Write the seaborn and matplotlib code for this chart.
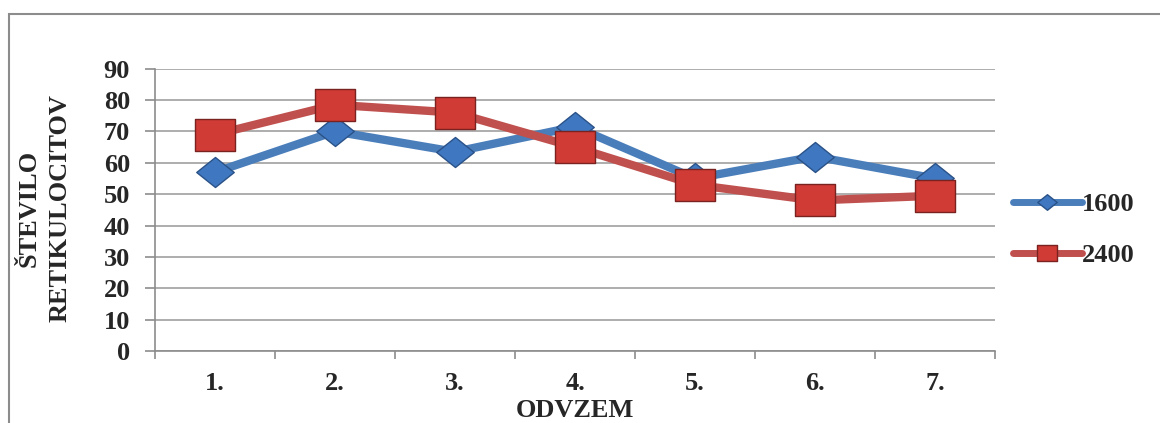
import pandas as pd
import matplotlib.pyplot as plt
import seaborn as sns
from matplotlib.path import Path
from matplotlib.lines import Line2D
from matplotlib.patches import Rectangle

# podatki
odvzem = ['1.', '2.', '3.', '4.', '5.', '6.', '7.']
serija_1600 = [57, 70, 63.5, 71.5, 55, 62, 55]
serija_2400 = [69, 78.5, 76, 65, 53, 48, 49.5]
y_ticks = [0, 10, 20, 30, 40, 50, 60, 70, 80, 90]

sns.set_theme(style='white')
plt.rcParams['font.family'] = ['Liberation Serif', 'DejaVu Serif']
plt.rcParams['font.weight'] = 'bold'

# markerji (raztegnjeni kot v Excelu)
diamant = Path([(0, -0.8), (1, 0), (0, 0.8), (-1, 0), (0, -0.8)],
               [Path.MOVETO, Path.LINETO, Path.LINETO, Path.LINETO, Path.CLOSEPOLY])
kvadrat = Path([(-1, -0.78), (1, -0.78), (1, 0.78), (-1, 0.78), (-1, -0.78)],
               [Path.MOVETO, Path.LINETO, Path.LINETO, Path.LINETO, Path.CLOSEPOLY])

modra = '#4a7ebb'
rdeca = '#c0504d'
fs = 19

fig = plt.figure(figsize=(11.6, 4.23), dpi=100)
ax = fig.add_axes([155 / 1160, 1 - 351 / 423, 840 / 1160, (351 - 68.7) / 423])

sns.lineplot(x=odvzem, y=serija_1600, ax=ax, color=modra, lw=6, sort=False,
             marker=diamant, markersize=27, markerfacecolor='#3f78c0',
             markeredgecolor='#2a5288', markeredgewidth=1)
sns.lineplot(x=odvzem, y=serija_2400, ax=ax, color=rdeca, lw=6, sort=False,
             marker=kvadrat, markersize=29, markerfacecolor='#d13b35',
             markeredgecolor='#7a2220', markeredgewidth=1)

ax.set_xlim(-0.5, len(odvzem) - 0.5)
ax.set_ylim(0, 90)
ax.set_yticks(y_ticks)
ax.yaxis.grid(True, color='#a0a0a0', lw=1.2)
ax.set_axisbelow(True)
for s in ['top', 'right']:
    ax.spines[s].set_visible(False)
for s in ['left', 'bottom']:
    ax.spines[s].set_color('#8c8c8c')
    ax.spines[s].set_linewidth(1.2)

ax.set_xticks(range(len(odvzem)))
ax.set_xticklabels(odvzem)
ax.set_xticks([i - 0.5 for i in range(len(odvzem) + 1)], minor=True)
ax.tick_params(axis='x', which='major', length=0, pad=15, labelsize=fs)
ax.tick_params(axis='x', which='minor', length=6, width=1.2, color='#8c8c8c', direction='out', bottom=True)
ax.tick_params(axis='y', length=7, width=1.2, color='#8c8c8c', direction='out', pad=11, labelsize=fs, left=True)
for t in ax.get_xticklabels() + ax.get_yticklabels():
    t.set_fontweight('bold')

ax.set_xlabel('ODVZEM', fontsize=fs, fontweight='bold', labelpad=3)
ax.set_ylabel('')
fig.text(45 / 1160, 1 - 208 / 423, 'ŠTEVILO\nRETIKULOCITOV', rotation=90, ha='center', va='center',
         fontsize=fs, fontweight='bold', linespacing=1.45)

# legenda
roc = [Line2D([], [], color=modra, lw=5, marker=diamant, markersize=14,
              markerfacecolor='#3f78c0', markeredgecolor='#2a5288'),
       Line2D([], [], color=rdeca, lw=5, marker=kvadrat, markersize=14,
              markerfacecolor='#d13b35', markeredgecolor='#7a2220')]
fig.legend(roc, ['1600', '2400'], loc='center left', bbox_to_anchor=(1013 / 1160, 1 - 230 / 423),
           bbox_transform=fig.transFigure, frameon=False, handlelength=2.6,
           handletextpad=0.0, labelspacing=1.05, borderpad=0, borderaxespad=0,
           prop={'weight': 'bold', 'size': fs})

# okvir
fig.patches.append(Rectangle((9 / 1160, -0.1), 1.2, 1 - 14 / 423 + 0.1, transform=fig.transFigure,
                             fill=False, edgecolor='#8c8c8c', lw=1.5))

plt.savefig('out.png', dpi=100)
